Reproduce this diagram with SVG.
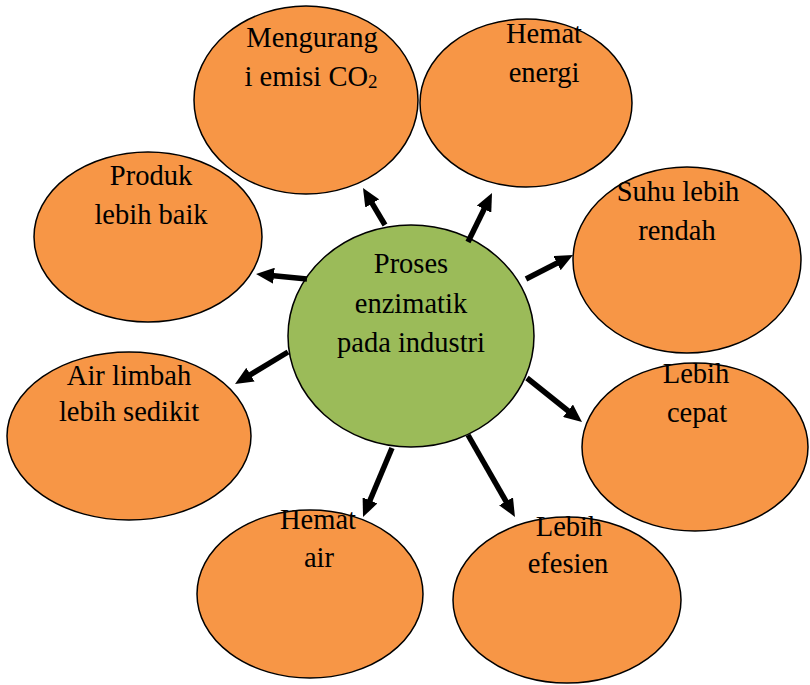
<svg xmlns="http://www.w3.org/2000/svg" width="810" height="685" viewBox="0 0 810 685">
<style>
.o{fill:#F79646;stroke:#000;stroke-width:1.5}
.c{fill:#9BBB59;stroke:#000;stroke-width:1.5}
text{font-family:"Liberation Serif","Times New Roman",serif;font-size:28.5px;fill:#000;text-anchor:middle}
.a{stroke:#000;stroke-width:5.5;fill:none;marker-end:url(#ah)}
</style>
<defs>
<marker id="ah" markerUnits="userSpaceOnUse" markerWidth="18" markerHeight="16" refX="8" refY="8" orient="auto">
<path d="M0,0 L18,8 L0,16 z" fill="#000"/>
</marker>
</defs>
<rect width="810" height="685" fill="#fff"/>
<g id="n1"><ellipse class="o" cx="306" cy="100" rx="112" ry="94"/><text x="312" y="47">Mengurang</text><text x="311" y="86">i emisi CO<tspan font-size="19" dy="2">2</tspan></text></g>
<g id="n2"><ellipse class="o" cx="526" cy="103" rx="106" ry="84"/><text x="544" y="43">Hemat</text><text x="544" y="82">energi</text></g>
<g id="n3"><ellipse class="o" cx="687" cy="260" rx="114" ry="93"/><text x="678" y="201">Suhu lebih</text><text x="677" y="240">rendah</text></g>
<g id="n4"><ellipse class="o" cx="695" cy="447" rx="113" ry="84"/><text x="696" y="383">Lebih</text><text x="697" y="422">cepat</text></g>
<g id="n5"><ellipse class="o" cx="567" cy="600" rx="114" ry="83"/><text x="569" y="536">Lebih</text><text x="568" y="573">efesien</text></g>
<g id="n6"><ellipse class="o" cx="310" cy="594" rx="113" ry="84"/><text x="318" y="529">Hemat</text><text x="319" y="567">air</text></g>
<g id="n7"><ellipse class="o" cx="129" cy="436" rx="122" ry="84"/><text x="129" y="385">Air limbah</text><text x="129" y="421">lebih sedikit</text></g>
<g id="n8"><ellipse class="o" cx="148" cy="237" rx="114" ry="85"/><text x="151" y="185">Produk</text><text x="151" y="224">lebih baik</text></g>
<g id="center"><ellipse class="c" cx="411" cy="336" rx="123" ry="111"/><text x="411" y="273">Proses</text><text x="411" y="313">enzimatik</text><text x="411" y="352">pada industri</text></g>
<g id="connectors">
<path class="a" d="M385,225 L368.1,196.6"/>
<path class="a" d="M468,242 L487.6,202"/>
<path class="a" d="M526,279 L564.1,259.5"/>
<path class="a" d="M527,378 L574.2,415.75"/>
<path class="a" d="M468,435 L510,508.3"/>
<path class="a" d="M392,448 L366.9,507.8"/>
<path class="a" d="M288,352 L243.6,378.8"/>
<path class="a" d="M307,279 L266,275"/>
</g>
</svg>
